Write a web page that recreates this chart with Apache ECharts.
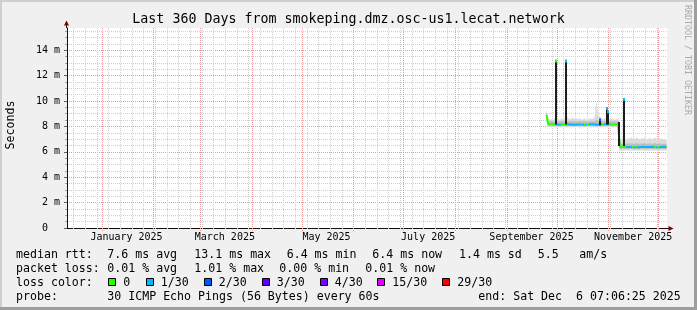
<!DOCTYPE html>
<html><head><meta charset="utf-8">
<script src="https://cdn.jsdelivr.net/npm/echarts@6/dist/echarts.min.js"></script>
<style>html,body{margin:0;padding:0;background:#f0f0f0}#c{width:697px;height:310px}</style>
</head><body><div id="c"></div>
<script>
// ---------- data ----------
const chartTitle = 'Last 360 Days from smokeping.dmz.osc-us1.lecat.network';
const yTitle = 'Seconds';
const sideText = 'RRDTOOL / TOBI OETIKER';
const endTime = '2025-12-06T07:06:25Z';
const spanDays = 360;
const yMax = 15.75;
const yTicks = [0, 2, 4, 6, 8, 10, 12, 14];
const monthLabels = ['January 2025', 'March 2025', 'May 2025', 'July 2025', 'September 2025', 'November 2025'];
const monthLabelDates = ['2025-01-16', '2025-03-16', '2025-05-16', '2025-07-16', '2025-09-16', '2025-11-16'];
const monthStarts = ['2025-01-01', '2025-02-01', '2025-03-01', '2025-04-01', '2025-05-01', '2025-06-01',
  '2025-07-01', '2025-08-01', '2025-09-01', '2025-10-01', '2025-11-01', '2025-12-01'];
const firstWeekLine = '2024-12-15';

const dates = ['09-25', '09-26', '09-27', '09-28', '09-29', '09-30',
  '10-01', '10-02', '10-03', '10-04', '10-05', '10-06', '10-07', '10-08', '10-09', '10-10',
  '10-11', '10-12', '10-13', '10-14', '10-15', '10-16', '10-17', '10-18', '10-19', '10-20',
  '10-21', '10-22', '10-23', '10-24', '10-25', '10-26', '10-27', '10-28', '10-29', '10-30', '10-31',
  '11-01', '11-02', '11-03', '11-04', '11-05', '11-06', '11-07', '11-08', '11-09', '11-10',
  '11-11', '11-12', '11-13', '11-14', '11-15', '11-16', '11-17', '11-18', '11-19', '11-20',
  '11-21', '11-22', '11-23', '11-24', '11-25', '11-26', '11-27', '11-28', '11-29', '11-30',
  '12-01', '12-02', '12-03', '12-04', '12-05', '12-06'];
const median = [8.90,
  8.20, 8.16, 8.18, 8.15, 8.17, 8.19, 8.14, 8.16, 8.15, 8.18,
  8.16, 8.14, 8.17, 8.15, 8.16, 8.18, 8.14, 8.16, 8.15, 8.17,
  8.15, 8.16, 8.14, 8.17, 8.15, 8.16, 8.18, 8.15, 8.16, 8.17,
  8.14, 8.20, 8.16, 8.15, 8.17, 8.22, 8.18, 8.15, 8.16, 8.14,
  8.16, 8.15, 8.18,
  6.38, 6.35, 6.40, 6.36, 6.38, 6.35, 6.37, 6.39, 6.36, 6.38,
  6.35, 6.37, 6.36, 6.38, 6.40, 6.36, 6.37, 6.35, 6.38, 6.36,
  6.39, 6.37, 6.35, 6.38, 6.36, 6.37, 6.39, 6.36, 6.38];
const loss = [0, 0, 0, 0, 0, 0,
  1, 1, 1, 0, 0, 0, 0,
  1, 1, 1, 1, 1, 1, 1, 1,
  0, 1, 0, 1, 0,
  1, 1, 1, 1, 1, 1, 1, 1,
  0,
  1, 1, 1, 0, 0, 0, 0, 0, 0,
  0, 0, 0, 0,
  1, 1, 1, 1,
  0, 1, 0, 1,
  1, 1, 1, 1, 1, 1, 1, 1, 1,
  0, 1, 0, 1,
  1, 1, 1, 0];
const smokeHi = [9.20,
  8.60, 8.50, 8.55, 8.50, 8.60, 8.70, 8.55, 8.50, 8.60, 8.50,
  8.60, 8.90, 8.60, 8.55, 8.60, 8.65, 8.55, 8.60, 8.55, 8.60,
  8.50, 8.55, 8.60, 8.50, 8.55, 8.60, 8.55, 8.60, 8.70, 9.80,
  8.70, 8.80, 8.60, 8.55, 8.60, 8.70, 8.60, 8.55, 8.60, 8.55,
  8.50, 8.55, 8.60,
  6.90, 6.95, 7.00, 6.90, 6.95, 7.05, 7.00, 7.10, 6.95, 7.00,
  7.10, 7.00, 6.95, 7.05, 7.00, 7.10, 6.95, 7.00, 7.05, 6.95,
  7.00, 7.10, 6.95, 7.00, 7.05, 6.95, 7.00, 6.95, 6.90];
const smokeLo = [8.60,
  7.95, 7.97, 7.94, 7.96, 7.95, 7.93, 7.96, 7.95, 7.94, 7.96,
  7.95, 7.94, 7.96, 7.95, 7.97, 7.94, 7.95, 7.96, 7.95, 7.94,
  7.96, 7.95, 7.94, 7.96, 7.95, 7.95, 7.94, 7.96, 7.95, 7.94,
  7.95, 7.96, 7.94, 7.95, 7.96, 7.95, 7.94, 7.96, 7.95, 7.94,
  7.96, 7.95, 7.95,
  6.12, 6.13, 6.11, 6.12, 6.14, 6.12, 6.11, 6.13, 6.12, 6.12,
  6.13, 6.11, 6.12, 6.14, 6.12, 6.11, 6.13, 6.12, 6.12, 6.13,
  6.11, 6.12, 6.14, 6.12, 6.11, 6.13, 6.12, 6.12, 6.13];
const coreHi = [9.00,
  8.38, 8.36, 8.40, 8.37, 8.38, 8.42, 8.36, 8.38, 8.37, 8.39,
  8.38, 8.45, 8.38, 8.37, 8.39, 8.40, 8.36, 8.38, 8.37, 8.39,
  8.37, 8.38, 8.36, 8.39, 8.37, 8.38, 8.40, 8.37, 8.40, 8.50,
  8.40, 8.45, 8.38, 8.37, 8.39, 8.45, 8.40, 8.37, 8.38, 8.36,
  8.38, 8.37, 8.40,
  6.62, 6.60, 6.65, 6.60, 6.62, 6.64, 6.61, 6.66, 6.60, 6.62,
  6.65, 6.61, 6.60, 6.63, 6.62, 6.66, 6.60, 6.62, 6.64, 6.60,
  6.62, 6.65, 6.60, 6.62, 6.63, 6.60, 6.62, 6.61, 6.60];
const coreLo = [8.70,
  8.06, 8.05, 8.07, 8.05, 8.06, 8.07, 8.04, 8.06, 8.05, 8.07,
  8.06, 8.04, 8.06, 8.05, 8.06, 8.07, 8.04, 8.06, 8.05, 8.06,
  8.05, 8.06, 8.04, 8.06, 8.05, 8.06, 8.07, 8.05, 8.06, 8.06,
  8.04, 8.08, 8.06, 8.05, 8.06, 8.10, 8.07, 8.05, 8.06, 8.04,
  8.06, 8.05, 8.07,
  6.26, 6.25, 6.28, 6.25, 6.26, 6.24, 6.26, 6.27, 6.25, 6.26,
  6.24, 6.26, 6.25, 6.26, 6.28, 6.25, 6.26, 6.24, 6.26, 6.25,
  6.27, 6.26, 6.24, 6.26, 6.25, 6.26, 6.27, 6.25, 6.26];
const spikeTimes = ['09-30T17:00', '10-06T14:00', '10-27T00:00', '10-31T06:00', '11-01T02:00', '11-07T18:00', '11-10T05:00'];
const spikeLow  = [8.15, 8.15, 8.10, 8.15, 8.15, 6.45, 6.45];
const spikeHigh = [13.20, 13.20, 8.55, 9.45, 9.20, 8.35, 10.15];
const spikeCapLoss = [0, 1, 2, 1, 1, -1, 1];

const lossLabels = ['0', '1/30', '2/30', '3/30', '4/30', '15/30', '29/30'];
const lossColors = ['#26ff00', '#00b8ff', '#0059ff', '#5e00ff', '#7e00ff', '#dd00ff', '#ff0000'];
const rttStats = ['7.6 ms avg', '13.1 ms max', '6.4 ms min', '6.4 ms now', '1.4 ms sd', '5.5', 'am/s'];
const lossStats = ['0.01 % avg', '1.01 % max', '0.00 % min', '0.01 % now'];
const probeText = '30 ICMP Echo Pings (56 Bytes) every 60s';
const endText = 'end: Sat Dec  6 07:06:25 2025';

// ---------- build ----------
const DAY = 86400000;
const endMs = Date.parse(endTime);
const startMs = endMs - spanDays * DAY;
const ts = d => Date.parse('2025-' + d + (d.length > 5 ? ':00Z' : 'T00:00:00Z'));
const dayMs = dates.map(ts);
const monthStartMs = monthStarts.map(d => Date.parse(d + 'T00:00:00Z'));
const monthLabelMs = monthLabelDates.map(d => Date.parse(d + 'T00:00:00Z'));
const weekMs = [];
for (let t = Date.parse(firstWeekLine + 'T00:00:00Z'); t < endMs; t += 7 * DAY) weekMs.push(t);
const minorY = [];
for (let v = 0.5; v < yMax; v += 0.5) if (v % 2 !== 0) minorY.push(v);

const pieces = dayMs.map((t, i) => ({
  gte: i === 0 ? t - DAY : (dayMs[i - 1] + t) / 2,
  lt: i === dayMs.length - 1 ? t + DAY : (t + dayMs[i + 1]) / 2,
  color: lossColors[loss[i]]
}));
const bandData = (lo, hi) => dayMs.slice(0, -1).map((t, i) => [t, lo[i], hi[i], dayMs[i + 1], lo[i + 1], hi[i + 1]]);

const FONT = 'DejaVu Sans Mono';
const MAJOR = '#eb9a9a';
const MINOR = '#cfcfcf';

const graphics = [];
graphics.push({type: 'rect', shape: {x: 0, y: 0, width: 697, height: 2}, style: {fill: '#cfcfcf'}, silent: true});
graphics.push({type: 'rect', shape: {x: 0, y: 0, width: 2, height: 310}, style: {fill: '#cfcfcf'}, silent: true});
graphics.push({type: 'rect', shape: {x: 0, y: 307, width: 697, height: 3}, style: {fill: '#9e9e9e'}, silent: true});
graphics.push({type: 'rect', shape: {x: 694, y: 0, width: 3, height: 310}, style: {fill: '#9e9e9e'}, silent: true});
graphics.push({type: 'text', x: 348.5, y: 19.5, style: {text: chartTitle, font: '13.3px "' + FONT + '"', fill: '#000', align: 'center', verticalAlign: 'middle'}});
graphics.push({type: 'text', x: 10.5, y: 125, rotation: Math.PI / 2, style: {text: yTitle, font: '11.6px "' + FONT + '"', fill: '#000', align: 'center', verticalAlign: 'middle'}});
graphics.push({type: 'text', x: 687, y: 60, rotation: -Math.PI / 2, style: {text: sideText, font: '8.3px "' + FONT + '"', fill: '#aaaaaa', align: 'center', verticalAlign: 'middle'}});
graphics.push({type: 'line', shape: {x1: 66.5, y1: 28, x2: 66.5, y2: 23}, style: {stroke: '#101010', lineWidth: 1}, z: 10});
graphics.push({type: 'polygon', shape: {points: [[64, 25.5], [69, 25.5], [66.5, 20.5]]}, style: {fill: '#7f0000'}, z: 11});
graphics.push({type: 'line', shape: {x1: 667, y1: 228.5, x2: 670, y2: 228.5}, style: {stroke: '#101010', lineWidth: 1}, z: 10});
graphics.push({type: 'polygon', shape: {points: [[668.5, 226], [668.5, 231], [673.5, 228.5]]}, style: {fill: '#7f0000'}, z: 11});
const txt = (s, x, y) => ({type: 'text', x: x, y: y, style: {text: s, font: '11.6px "' + FONT + '"', fill: '#000', align: 'left', verticalAlign: 'middle'}});
const rttX = [107.3, 194.3, 286.7, 372.3, 459, 537.7, 579.3];
const lossX = [107.3, 194.3, 279.3, 365.3];
const boxX = [108.3, 145.7, 203.7, 261.7, 319.7, 377.3, 442.3];
graphics.push(txt('median rtt:', 16, 254.5));
rttStats.forEach((s, i) => graphics.push(txt(s, rttX[i], 254.5)));
graphics.push(txt('packet loss:', 16, 268.5));
lossStats.forEach((s, i) => graphics.push(txt(s, lossX[i], 268.5)));
graphics.push(txt('loss color:', 16, 282.5));
lossLabels.forEach((s, i) => {
  graphics.push({type: 'rect', shape: {x: Math.round(boxX[i]) + 0.5, y: 278.5, width: 7, height: 7}, style: {fill: lossColors[i], stroke: '#000', lineWidth: 1}});
  graphics.push(txt(s, boxX[i] + 15, 282.5));
});
graphics.push(txt('probe:', 16, 296.5));
graphics.push(txt(probeText, 107.3, 296.5));
graphics.push(txt(endText, 478.3, 296.5));

// vertical grid line renderer (time values -> pixels through the axis scale)
const vGrid = (color, tick) => (params, api) => {
  const p = api.coord([api.value(0), 0]);
  const cs = params.coordSys;
  const x = Math.round(p[0]) + 0.5;
  return {type: 'line', shape: {x1: x, y1: cs.y, x2: x, y2: cs.y + cs.height + tick},
    style: {stroke: color, lineWidth: 1, lineDash: [1, 1]}};
};
const band = (color) => (params, api) => {
  const a0 = api.coord([api.value(0), api.value(1)]), a1 = api.coord([api.value(0), api.value(2)]);
  const b0 = api.coord([api.value(3), api.value(4)]), b1 = api.coord([api.value(3), api.value(5)]);
  return {type: 'polygon', shape: {points: [a0, a1, b1, b0]}, style: {fill: color, stroke: color, lineWidth: 0.5}};
};

const chart = echarts.init(document.getElementById('c'), null, {renderer: 'canvas'});
chart.setOption({
  animation: false,
  backgroundColor: '#f0f0f0',
  textStyle: {fontFamily: FONT},
  grid: {left: 67, top: 28, width: 600, height: 200, show: true, backgroundColor: '#ffffff', borderWidth: 0, containLabel: false, outerBoundsMode: 'none'},
  graphic: graphics,
  xAxis: [{
    type: 'value', min: startMs, max: endMs, position: 'bottom',
    axisLine: {show: true, onZero: false, lineStyle: {color: '#101010', width: 1}},
    axisTick: {show: false}, splitLine: {show: false},
    axisLabel: {show: true, customValues: monthLabelMs, margin: 4, fontFamily: FONT, fontSize: 10, color: '#000',
      formatter: v => { const i = monthLabelMs.findIndex(m => Math.abs(m - v) < 1000); return i >= 0 ? monthLabels[i] : ''; }}
  }],
  yAxis: [
    {type: 'value', min: 0, max: yMax, position: 'left',
      axisLine: {show: true, lineStyle: {color: '#101010', width: 1}},
      axisTick: {show: true, customValues: yTicks, length: 3, lineStyle: {color: '#606060'}},
      axisLabel: {show: true, customValues: yTicks, margin: 7, fontFamily: FONT, fontSize: 10, color: '#000',
        formatter: v => v === 0 ? '0  ' : v + ' m'},
      splitLine: {show: true, lineStyle: {color: MAJOR, width: 1, type: [1, 1]}}
    },
    {type: 'value', min: 0, max: yMax, position: 'left',
      axisLine: {show: false},
      axisTick: {show: true, customValues: minorY, length: 2, lineStyle: {color: '#a0a0a0'}},
      axisLabel: {show: false},
      splitLine: {show: true, lineStyle: {color: MINOR, width: 1, type: [1, 1]}}
    }
  ],
  visualMap: [{type: 'piecewise', show: false, dimension: 0, seriesIndex: 4, pieces: pieces, outOfRange: {color: lossColors[0]}}],
  series: [
    {type: 'custom', name: 'weekGrid', silent: true, z: 1, encode: {x: 0}, data: weekMs.map(t => [t]), renderItem: vGrid(MINOR, 2)},
    {type: 'custom', name: 'monthGrid', silent: true, z: 1, encode: {x: 0}, data: monthStartMs.map(t => [t]), renderItem: vGrid(MAJOR, 3)},
    {type: 'custom', name: 'smoke', silent: true, z: 2, encode: {x: [0, 3], y: [1, 2, 4, 5]},
      data: bandData(smokeLo, smokeHi), renderItem: band('#dadada')},
    {type: 'custom', name: 'smokeCore', silent: true, z: 3, encode: {x: [0, 3], y: [1, 2, 4, 5]},
      data: bandData(coreLo, coreHi), renderItem: band('#bdbdbd')},
    {type: 'line', name: 'median', symbol: 'none', silent: true,
      lineStyle: {width: 2}, data: dayMs.map((t, i) => [t, median[i]]), z: 5},
    {type: 'custom', name: 'spikes', silent: true, z: 6,
      encode: {x: 0, y: [1, 2]},
      data: spikeTimes.map((s, i) => [ts(s), spikeLow[i], spikeHigh[i], spikeCapLoss[i]]),
      renderItem: (params, api) => {
        const t = api.value(0), lo = api.value(1), hi = api.value(2), c = api.value(3);
        const pHi = api.coord([t, hi]), pLo = api.coord([t, lo]);
        const x0 = Math.round(pHi[0]) - 1;
        const children = [{type: 'rect', shape: {x: x0, y: pHi[1], width: 2, height: pLo[1] - pHi[1]}, style: {fill: '#1e1e1e'}}];
        if (c >= 0) children.push({type: 'rect', shape: {x: x0, y: pHi[1] - 1, width: 2, height: 3}, style: {fill: lossColors[c]}});
        return {type: 'group', children: children};
      }
    }
  ]
});
</script></body></html>
